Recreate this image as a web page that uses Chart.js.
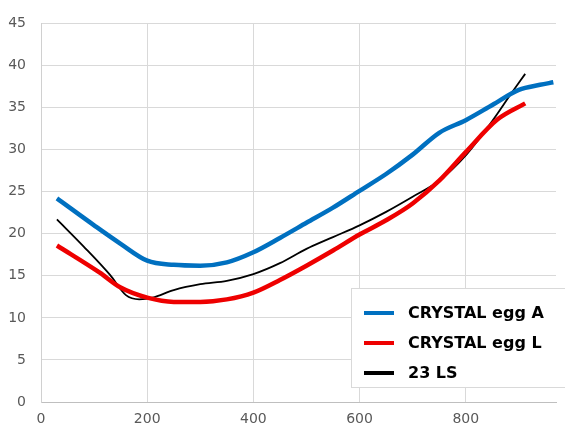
<!DOCTYPE html>
<html>
<head>
<meta charset="utf-8">
<script src="https://cdn.jsdelivr.net/npm/chart.js@4"></script>
<style>
  html, body { margin: 0; padding: 0; background: #fff; }
  #wrap { width: 565px; height: 431px; }
</style>
</head>
<body>
<div id="wrap"><canvas id="chart" width="565" height="431"></canvas></div>
<script>
// series data
const seriesNames = ["CRYSTAL egg A", "CRYSTAL egg L", "23 LS"];
const seriesColors = ["#0070c0", "#ee0000", "#000000"];

const eggAX = [30, 100, 150, 200, 250, 300, 350, 400, 450, 500, 550, 600, 650, 700, 750, 800, 850, 900, 940, 965];
const eggAY = [24.2, 21.0, 18.8, 16.8, 16.3, 16.2, 16.6, 17.8, 19.5, 21.3, 23.1, 25.1, 27.1, 29.4, 32.0, 33.5, 35.3, 37.1, 37.7, 38.0];

const eggLX = [30, 110, 150, 200, 250, 300, 350, 400, 450, 500, 550, 600, 650, 700, 750, 800, 860, 912];
const eggLY = [18.6, 15.4, 13.6, 12.4, 11.9, 11.9, 12.2, 13.0, 14.5, 16.2, 18.0, 19.9, 21.6, 23.6, 26.3, 29.7, 33.6, 35.5];

const lsX = [30, 80, 130, 160, 185, 210, 250, 300, 350, 400, 450, 500, 550, 600, 650, 700, 750, 800, 850, 885, 912];
const lsY = [21.7, 18.5, 15.1, 12.7, 12.2, 12.4, 13.3, 14.0, 14.4, 15.2, 16.5, 18.2, 19.6, 21.0, 22.6, 24.4, 26.3, 29.3, 33.4, 36.6, 39.0];

const xTicks = [0, 200, 400, 600, 800];
const xMax = 970;
const yTicksStep = 5, yMax = 45;

const toPoints = (xs, ys) => xs.map((x, i) => ({ x: x, y: ys[i] }));

// legend drawn as a boxed overlay in the lower right
const boxLegend = {
  id: "boxLegend",
  afterDraw(chart) {
    const ctx = chart.ctx;
    const left = 351, top = 288, right = 566, bottom = 387;
    ctx.save();
    ctx.fillStyle = "#ffffff";
    ctx.fillRect(left, top, right - left, bottom - top);
    ctx.strokeStyle = "#d9d9d9";
    ctx.lineWidth = 1;
    ctx.strokeRect(left + 0.5, top + 0.5, right - left, bottom - top);
    ctx.font = "bold 16px 'DejaVu Sans'";
    ctx.textBaseline = "middle";
    chart.data.datasets.forEach((ds, i) => {
      const y = 313 + i * 30;
      ctx.strokeStyle = ds.borderColor;
      ctx.lineWidth = 4;
      ctx.beginPath();
      ctx.moveTo(364, y);
      ctx.lineTo(394, y);
      ctx.stroke();
      ctx.fillStyle = "#000";
      ctx.fillText(ds.label, 408, y + 1);
    });
    ctx.restore();
  }
};

new Chart(document.getElementById("chart"), {
  type: "line",
  data: {
    datasets: [
      { label: seriesNames[0], data: toPoints(eggAX, eggAY), borderColor: seriesColors[0], borderWidth: 4.5 },
      { label: seriesNames[1], data: toPoints(eggLX, eggLY), borderColor: seriesColors[1], borderWidth: 4.5 },
      { label: seriesNames[2], data: toPoints(lsX, lsY), borderColor: seriesColors[2], borderWidth: 1.8 }
    ]
  },
  options: {
    responsive: false,
    animation: false,
    layout: { padding: { top: 17, right: 9, left: 0, bottom: 0 } },
    elements: {
      point: { radius: 0 },
      line: { cubicInterpolationMode: "monotone", fill: false }
    },
    plugins: { legend: { display: false }, tooltip: { enabled: false } },
    scales: {
      x: {
        type: "linear",
        min: 0,
        max: xMax,
        afterBuildTicks: s => { s.ticks = xTicks.map(v => ({ value: v })); },
        afterFit: s => { s.height = 29; },
        ticks: { padding: 9, color: "#595959", font: { family: "DejaVu Sans", size: 14 } },
        grid: { color: "#d9d9d9", drawTicks: false },
        border: { color: "#bfbfbf" }
      },
      y: {
        min: 0,
        max: yMax,
        afterFit: s => { s.width = 41; },
        ticks: { stepSize: yTicksStep, padding: 15, color: "#595959", font: { family: "DejaVu Sans", size: 14 } },
        grid: { color: "#d9d9d9", drawTicks: false },
        border: { color: "#d0d0d0" }
      }
    }
  },
  plugins: [boxLegend]
});
</script>
</body>
</html>
